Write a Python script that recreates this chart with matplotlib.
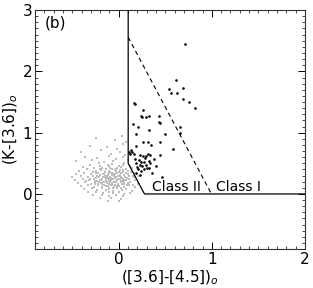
import matplotlib
matplotlib.use("Agg")
import matplotlib.pyplot as plt
from matplotlib.ticker import MultipleLocator

# Class II / I sources (black)
yso_x = [0.71, 0.62, 0.54, 0.69, 0.56, 0.63, 0.69, 0.75, 0.82,
         0.165, 0.17, 0.26, 0.24, 0.25, 0.29, 0.33, 0.43, 0.43, 0.44,
         0.15, 0.21, 0.32, 0.18, 0.50, 0.66, 0.66, 0.58,
         0.18, 0.26, 0.31, 0.35, 0.44,
         0.115, 0.14, 0.16, 0.23, 0.26, 0.29, 0.31, 0.34, 0.44,
         0.17, 0.22, 0.24, 0.27, 0.32, 0.34, 0.19, 0.23, 0.29,
         0.20, 0.25, 0.30, 0.33, 0.21, 0.24, 0.36, 0.19, 0.23, 0.46,
         0.13, 0.12, 0.28, 0.38, 0.40, 0.27]
yso_y = [2.45, 1.86, 1.71, 1.73, 1.64, 1.64, 1.55, 1.50, 1.41,
         1.49, 1.47, 1.37, 1.27, 1.26, 1.26, 1.28, 1.27, 1.17, 1.15,
         1.14, 1.09, 1.04, 0.98, 0.98, 1.09, 1.00, 0.73,
         0.79, 0.84, 0.84, 0.80, 0.84,
         0.69, 0.69, 0.66, 0.64, 0.62, 0.62, 0.66, 0.64, 0.63,
         0.57, 0.55, 0.52, 0.52, 0.54, 0.50, 0.50, 0.48, 0.48,
         0.44, 0.45, 0.42, 0.42, 0.40, 0.38, 0.35, 0.34, 0.31, 0.28,
         0.72, 0.66, 0.58, 0.57, 0.46, 0.40]

# Field / photospheric sources (grey)
field_pts = [
    (-0.25, 0.92), (-0.04, 0.88), (0.03, 0.95), (0.08, 0.84),
    (-0.31, 0.79), (-0.13, 0.76), (0.05, 0.81), (-0.02, 0.73),
    (-0.41, 0.68), (-0.19, 0.71), (-0.08, 0.66), (0.01, 0.69), (0.07, 0.64),
    (-0.36, 0.61), (-0.23, 0.58), (-0.11, 0.62), (-0.03, 0.57), (0.04, 0.60), (0.10, 0.56),
    (-0.46, 0.53), (-0.29, 0.55), (-0.16, 0.52), (-0.06, 0.54), (0.06, 0.51),
    (-0.31, 0.48), (-0.21, 0.50), (-0.12, 0.47), (-0.07, 0.49), (0.00, 0.46), (0.05, 0.48), (0.12, 0.45),
    (-0.39, 0.44), (-0.27, 0.42), (-0.20, 0.45), (-0.14, 0.41), (-0.09, 0.43), (-0.03, 0.40), (0.02, 0.44), (0.08, 0.41), (0.14, 0.43),
    (-0.43, 0.38), (-0.34, 0.40), (-0.25, 0.37), (-0.19, 0.39), (-0.15, 0.36), (-0.11, 0.38), (-0.07, 0.35), (-0.03, 0.37), (0.01, 0.39), (0.05, 0.36), (0.10, 0.38), (0.16, 0.35),
    (-0.46, 0.33), (-0.37, 0.35), (-0.30, 0.32), (-0.24, 0.34), (-0.20, 0.31), (-0.16, 0.33), (-0.13, 0.30), (-0.10, 0.34), (-0.07, 0.31), (-0.04, 0.33), (-0.01, 0.30), (0.02, 0.34), (0.06, 0.31), (0.10, 0.33), (0.15, 0.30), (0.20, 0.32),
    (-0.50, 0.28), (-0.41, 0.30), (-0.33, 0.27), (-0.28, 0.29), (-0.24, 0.26), (-0.21, 0.28), (-0.18, 0.25), (-0.15, 0.29), (-0.12, 0.26), (-0.09, 0.28), (-0.06, 0.25), (-0.03, 0.27), (0.00, 0.29), (0.03, 0.26), (0.07, 0.28), (0.11, 0.25), (0.16, 0.27), (0.22, 0.29),
    (-0.47, 0.23), (-0.38, 0.24), (-0.32, 0.22), (-0.27, 0.24), (-0.23, 0.21), (-0.20, 0.23), (-0.17, 0.20), (-0.14, 0.24), (-0.11, 0.21), (-0.08, 0.23), (-0.05, 0.20), (-0.02, 0.22), (0.01, 0.24), (0.04, 0.21), (0.08, 0.23), (0.12, 0.20), (0.17, 0.22),
    (-0.44, 0.18), (-0.36, 0.19), (-0.30, 0.17), (-0.26, 0.19), (-0.22, 0.16), (-0.19, 0.18), (-0.16, 0.15), (-0.13, 0.19), (-0.10, 0.16), (-0.07, 0.18), (-0.04, 0.15), (-0.01, 0.17), (0.02, 0.19), (0.06, 0.16), (0.10, 0.18), (0.15, 0.15), (0.21, 0.17),
    (-0.41, 0.13), (-0.33, 0.14), (-0.27, 0.12), (-0.22, 0.14), (-0.18, 0.11), (-0.14, 0.13), (-0.11, 0.10), (-0.08, 0.14), (-0.05, 0.11), (-0.02, 0.13), (0.02, 0.10), (0.06, 0.12), (0.11, 0.14), (0.17, 0.11),
    (-0.37, 0.08), (-0.29, 0.09), (-0.23, 0.07), (-0.18, 0.09), (-0.14, 0.06), (-0.10, 0.08), (-0.06, 0.05), (-0.02, 0.09), (0.03, 0.06), (0.08, 0.08), (0.14, 0.05),
    (-0.33, 0.03), (-0.24, 0.04), (-0.17, 0.02), (-0.11, 0.04), (-0.06, 0.01), (0.00, 0.03), (0.06, 0.00), (0.12, 0.02),
    (-0.28, -0.02), (-0.18, -0.01), (-0.10, -0.03), (-0.03, -0.01), (0.05, -0.04),
    (-0.20, -0.07), (-0.08, -0.06), (0.02, -0.08),
    (-0.12, -0.12), (0.00, -0.11),
    # denser core
    (-0.22, 0.335), (-0.17, 0.275), (-0.135, 0.215), (-0.095, 0.355), (-0.055, 0.285),
    (-0.025, 0.195), (0.015, 0.315), (0.045, 0.245), (-0.185, 0.155), (-0.145, 0.365),
    (-0.115, 0.305), (-0.075, 0.145), (-0.045, 0.385), (-0.005, 0.245), (0.035, 0.165),
    (0.075, 0.335), (-0.255, 0.215), (-0.205, 0.405), (-0.165, 0.325), (-0.125, 0.175),
    (-0.085, 0.265), (-0.035, 0.215), (0.005, 0.355), (0.055, 0.195), (0.085, 0.265),
    (-0.235, 0.295), (-0.195, 0.235), (-0.155, 0.195), (-0.105, 0.245), (-0.065, 0.325),
    (-0.015, 0.345), (0.025, 0.275), (0.065, 0.225), (-0.28, 0.355), (-0.31, 0.245),
    (-0.26, 0.155), (-0.12, 0.125), (-0.06, 0.095), (0.00, 0.135), (0.09, 0.145),
    (-0.18, 0.43), (-0.10, 0.455), (-0.02, 0.425), (0.04, 0.395), (-0.35, 0.215),
    (-0.14, 0.265), (-0.09, 0.195), (-0.04, 0.265), (0.02, 0.215), (-0.21, 0.195),
    (-0.24, 0.38), (0.11, 0.29), (0.13, 0.36), (-0.07, 0.40), (-0.16, 0.28),
]
field_x = [p[0] for p in field_pts]
field_y = [p[1] for p in field_pts]

# Class boundaries
class2_x = [0.101, 0.101, 0.276, 2.0]
class2_y = [3.0, 0.5, 0.0, 0.0]
class1_x = [0.101, 0.996]
class1_y = [2.557, 0.0]

fig = plt.figure(figsize=(3.13, 2.88), dpi=100)
ax = fig.add_axes([0.112, 0.135, 0.862, 0.83])

ax.scatter(field_x, field_y, s=1.0, c='#bdbdbd', marker='s', linewidths=0)
ax.scatter(yso_x, yso_y, s=3.5, c='black', marker='o', linewidths=0)
ax.plot(class2_x, class2_y, color='black', lw=0.9)
ax.plot(class1_x, class1_y, color='black', lw=0.8, ls=(0, (4, 3)))

ax.text(0.36, 0.05, 'Class II', fontsize=10)
ax.text(1.05, 0.05, 'Class I', fontsize=10)
ax.text(-0.8, 2.72, '(b)', fontsize=11)

ax.set_xlim(-0.9, 2.0)
ax.set_ylim(-0.9, 3.0)
ax.xaxis.set_major_locator(MultipleLocator(1))
ax.yaxis.set_major_locator(MultipleLocator(1))
ax.xaxis.set_minor_locator(MultipleLocator(0.1))
ax.yaxis.set_minor_locator(MultipleLocator(0.1))
ax.tick_params(which='both', direction='in', top=True, right=True, labelsize=11, pad=2)
ax.tick_params(which='major', length=5, width=0.7)
ax.tick_params(which='minor', length=2.5, width=0.5)
for s in ax.spines.values():
    s.set_linewidth(0.8)
    s.set_color('#333333')

ax.set_xlabel('([3.6]-[4.5])$_o$', fontsize=11, labelpad=1)
ax.set_ylabel('(K-[3.6])$_o$', fontsize=11, labelpad=2)

fig.savefig('out.png', dpi=100)
